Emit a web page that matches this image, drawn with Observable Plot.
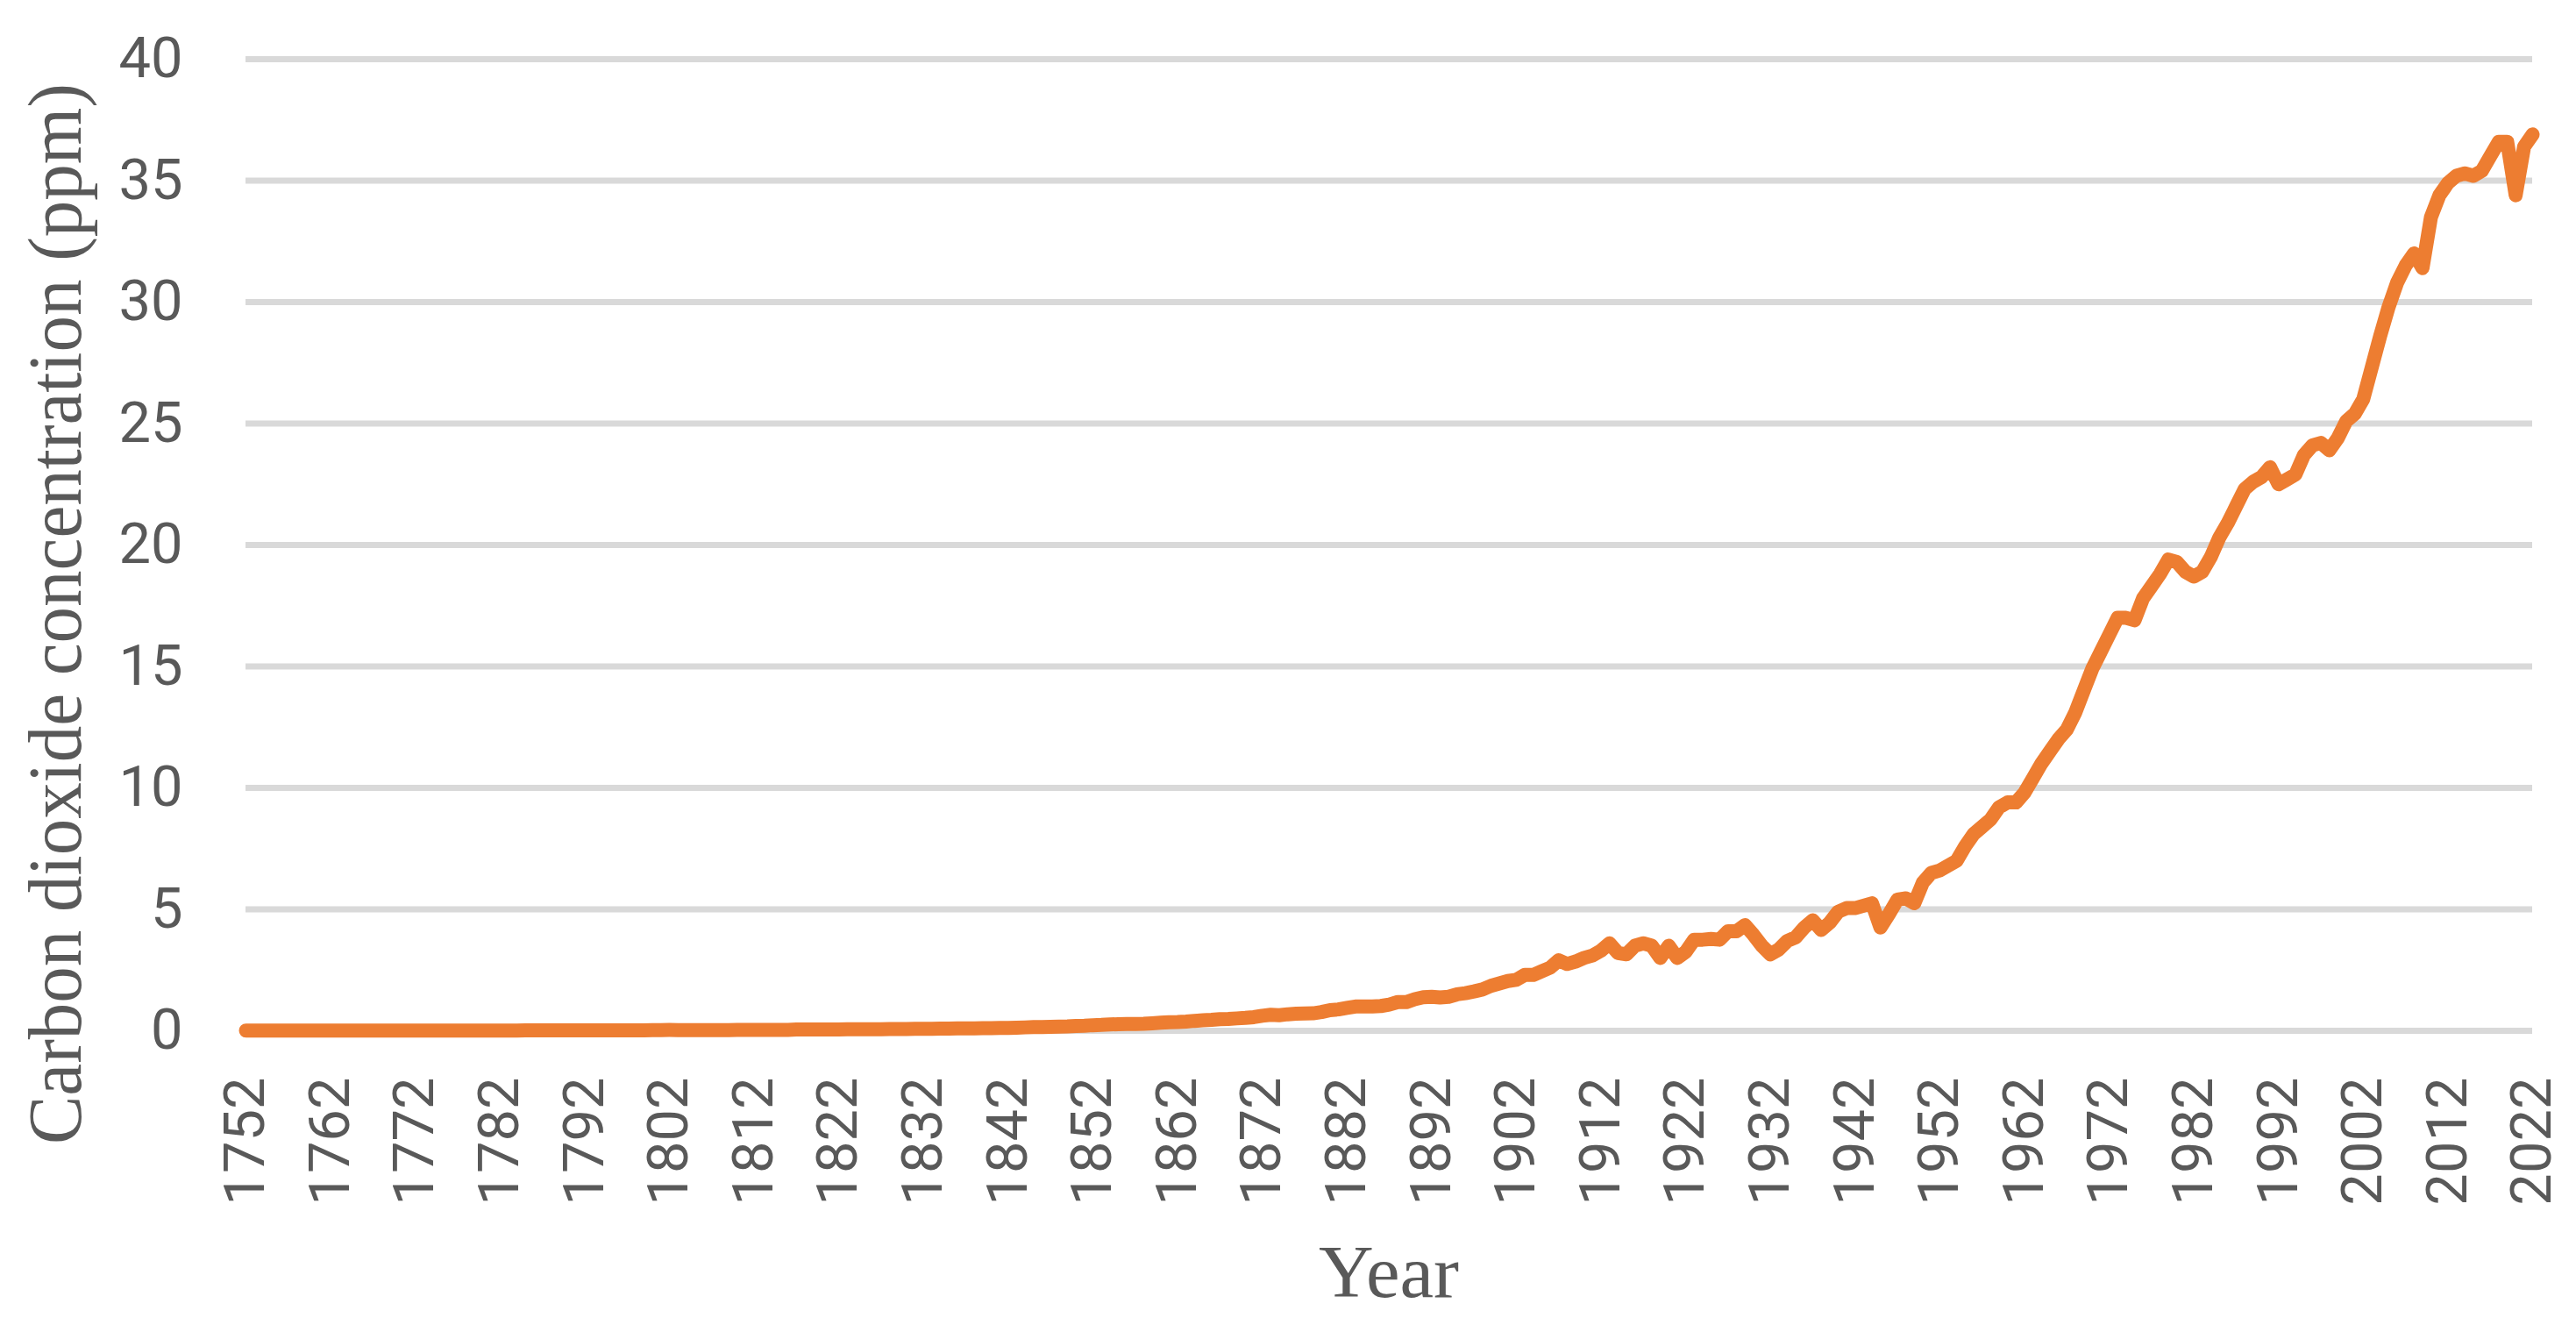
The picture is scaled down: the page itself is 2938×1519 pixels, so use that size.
<!DOCTYPE html>
<html>
<head>
<meta charset="utf-8">
<script src="https://cdn.jsdelivr.net/npm/d3@7"></script>
<script src="https://cdn.jsdelivr.net/npm/@observablehq/plot@0.6"></script>
<style>
  html, body { margin: 0; padding: 0; background: #ffffff; }
  #chart svg { display: block; }
</style>
</head>
<body>
<div id="chart"></div>
<script>
// ---- Data ----
const firstYear = 1752;
const emissions = [
  // 1752-1761
  0.01, 0.01, 0.01, 0.01, 0.01, 0.01, 0.01, 0.01, 0.01, 0.01,
  // 1762-1771
  0.01, 0.01, 0.01, 0.01, 0.01, 0.01, 0.01, 0.01, 0.01, 0.01,
  // 1772-1781
  0.01, 0.01, 0.01, 0.01, 0.01, 0.01, 0.01, 0.01, 0.01, 0.01,
  // 1782-1791
  0.01, 0.01, 0.01, 0.02, 0.02, 0.02, 0.02, 0.02, 0.02, 0.02,
  // 1792-1799
  0.02, 0.02, 0.02, 0.02, 0.02, 0.02, 0.02, 0.02,
  // 1800-1809
  0.03, 0.03, 0.04, 0.03, 0.03, 0.03, 0.03, 0.03, 0.03, 0.03,
  // 1810-1819
  0.04, 0.04, 0.04, 0.04, 0.04, 0.04, 0.04, 0.05, 0.05, 0.05,
  // 1820-1829
  0.05, 0.05, 0.05, 0.06, 0.06, 0.06, 0.06, 0.06, 0.07, 0.07,
  // 1830-1839
  0.07, 0.08, 0.08, 0.08, 0.09, 0.09, 0.10, 0.10, 0.10, 0.11,
  // 1840-1849
  0.11, 0.12, 0.12, 0.13, 0.14, 0.15, 0.15, 0.16, 0.17, 0.18,
  // 1850-1859
  0.20, 0.21, 0.23, 0.24, 0.26, 0.27, 0.28, 0.28, 0.29, 0.31,
  // 1860-1869
  0.33, 0.35, 0.36, 0.38, 0.41, 0.43, 0.45, 0.48, 0.49, 0.51,
  // 1870-1879
  0.53, 0.56, 0.62, 0.66, 0.64, 0.68, 0.70, 0.71, 0.72, 0.77,
  // 1880-1889
  0.85, 0.88, 0.94, 1.00, 1.00, 1.00, 1.02, 1.08, 1.18, 1.18,
  // 1890-1899
  1.30, 1.38, 1.40, 1.37, 1.40, 1.50, 1.55, 1.62, 1.70, 1.85,
  // 1900-1909
  1.95, 2.05, 2.10, 2.30, 2.30, 2.45, 2.60, 2.90, 2.75, 2.85,
  // 1910-1919
  3.00, 3.10, 3.30, 3.60, 3.20, 3.15, 3.50, 3.60, 3.50, 3.00,
  // 1920-1929
  3.50, 3.00, 3.25, 3.75, 3.75, 3.78, 3.75, 4.10, 4.10, 4.35,
  // 1930-1939
  3.95, 3.50, 3.15, 3.35, 3.70, 3.85, 4.25, 4.55, 4.15, 4.45,
  // 1940-1949
  4.90, 5.05, 5.05, 5.15, 5.25, 4.25, 4.80, 5.40, 5.45, 5.25,
  // 1950-1959
  6.10, 6.50, 6.60, 6.80, 7.00, 7.60, 8.10, 8.40, 8.70, 9.20,
  // 1960-1969
  9.40, 9.40, 9.80, 10.40, 11.00, 11.50, 12.00, 12.40, 13.10, 14.00,
  // 1970-1979
  14.90, 15.60, 16.30, 17.00, 17.00, 16.90, 17.80, 18.30, 18.80, 19.40,
  // 1980-1989
  19.30, 18.90, 18.70, 18.90, 19.50, 20.30, 20.90, 21.60, 22.30, 22.60,
  // 1990-1999
  22.80, 23.20, 22.50, 22.70, 22.90, 23.70, 24.10, 24.20, 23.90, 24.40,
  // 2000-2009
  25.10, 25.40, 26.00, 27.30, 28.60, 29.80, 30.80, 31.50, 32.00, 31.40,
  // 2010-2019
  33.50, 34.40, 34.90, 35.20, 35.30, 35.20, 35.40, 36.00, 36.60, 36.60,
  // 2020-2022
  34.40, 36.40, 36.90
];
const xTickLabels = [1752, 1762, 1772, 1782, 1792, 1802, 1812, 1822, 1832, 1842,
  1852, 1862, 1872, 1882, 1892, 1902, 1912, 1922, 1932, 1942,
  1952, 1962, 1972, 1982, 1992, 2002, 2012, 2022];
const yTicks = [0, 5, 10, 15, 20, 25, 30, 35, 40];
const xTitle = "Year";
const yTitle = "Carbon dioxide concentration (ppm)";

const data = emissions.map((v, i) => ({year: firstYear + i, value: v}));

const W = 2938, H = 1519;
const textColor = "#595959";

const chart = Plot.plot({
  width: W,
  height: H,
  marginLeft: 280,
  marginRight: 50,
  marginTop: 67,
  marginBottom: 344,
  style: {
    fontFamily: "Roboto, 'Open Sans', sans-serif",
    fontSize: "65px",
    color: textColor,
    background: "#ffffff",
    overflow: "visible"
  },
  x: {domain: [1752, 2022], label: null},
  y: {domain: [0, 40], label: null},
  marks: [
    Plot.ruleY(yTicks, {stroke: "#d9d9d9", strokeWidth: 7}),
    Plot.line(data, {
      x: "year", y: "value",
      stroke: "#ed7d31", strokeWidth: 16,
      strokeLinejoin: "round", strokeLinecap: "round"
    }),
    Plot.axisX({
      ticks: xTickLabels, tickFormat: d => String(d),
      tickRotate: -90, tickSize: 0, tickPadding: 53,
      fill: textColor, label: null
    }),
    Plot.axisY({
      ticks: yTicks, tickSize: 0, tickPadding: 72,
      fill: textColor, label: null
    })
  ]
});

document.getElementById("chart").appendChild(chart);

// Axis titles (Times-like serif)
const svg = d3.select(chart);
svg.append("text")
  .attr("x", 1584)
  .attr("y", 1479)
  .attr("text-anchor", "middle")
  .attr("font-family", "'Liberation Serif', 'Times New Roman', serif")
  .attr("font-size", 85)
  .attr("textLength", 160)
  .attr("lengthAdjust", "spacingAndGlyphs")
  .attr("fill", textColor)
  .text(xTitle);
svg.append("text")
  .attr("transform", "translate(92,700) rotate(-90)")
  .attr("text-anchor", "middle")
  .attr("font-family", "'Liberation Serif', 'Times New Roman', serif")
  .attr("font-size", 86)
  .attr("textLength", 1210)
  .attr("lengthAdjust", "spacingAndGlyphs")
  .attr("fill", textColor)
  .text(yTitle);
</script>
</body>
</html>
